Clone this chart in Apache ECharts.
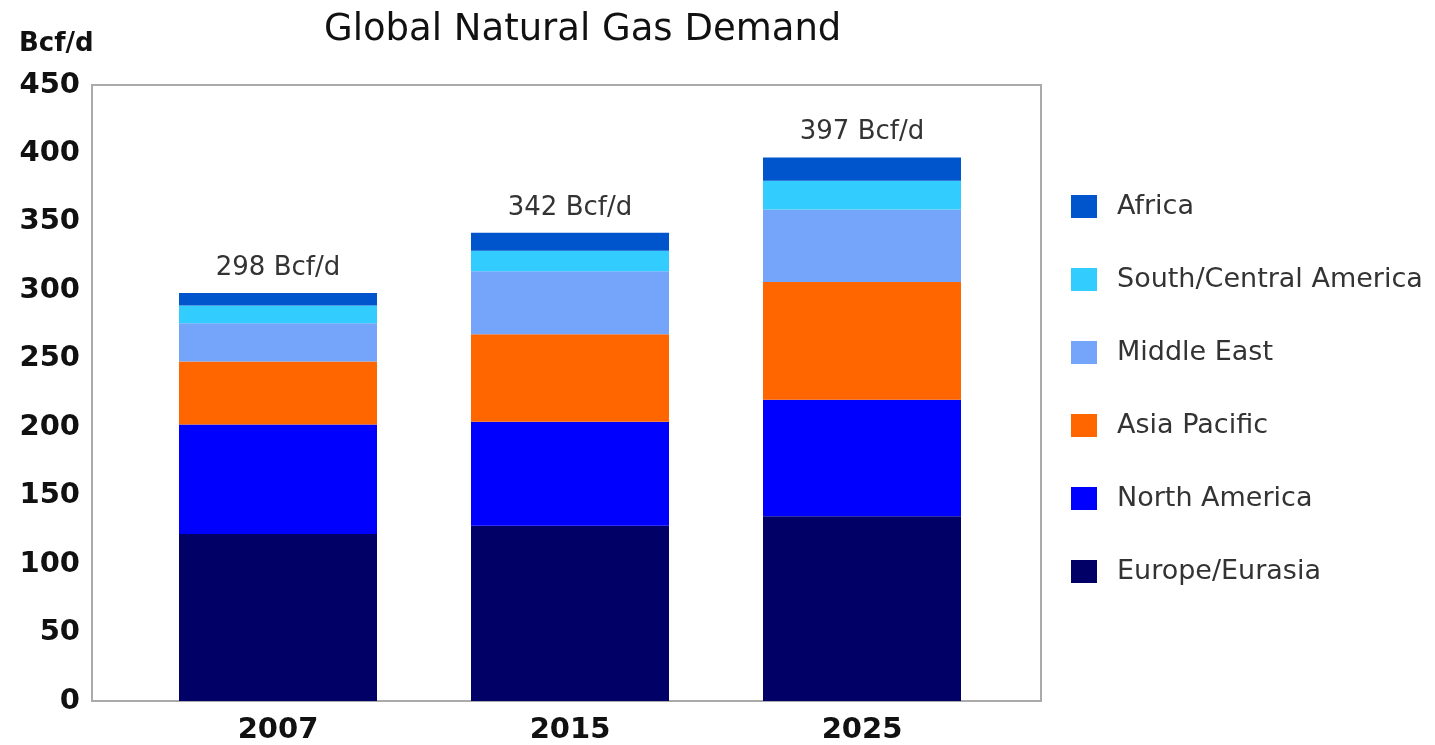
<!DOCTYPE html>
<html>
<head>
<meta charset="utf-8">
<script src="https://cdn.jsdelivr.net/npm/echarts@6/dist/echarts.min.js"></script>
<style>html,body{margin:0;padding:0;background:#fff;}#c{width:1435px;height:745px;}</style>
</head>
<body>
<div id="c"></div>
<script>
const years = ['2007', '2015', '2025'];
const europe = [122, 128, 135];
const northAmerica = [80, 76, 85];
const asiaPacific = [46, 64, 86];
const middleEast = [28, 46, 53];
const southCentral = [13, 15, 21];
const africa = [9, 13, 17];
const totals = [298, 342, 397];
const yTicks = { min: 0, max: 450, interval: 50 };

const FONT = 'DejaVu Sans';
const chart = echarts.init(document.getElementById('c'));

function bar(name, data, color, extra) {
  return Object.assign({
    name: name, type: 'bar', stack: 'total', data: data,
    xAxisIndex: 1, yAxisIndex: 1, barWidth: 198,
    itemStyle: { color: color }, emphasis: { disabled: true }
  }, extra || {});
}

chart.setOption({
  animation: false,
  title: [
    { text: 'Global Natural Gas Demand', left: 319, top: 7,
      textStyle: { fontFamily: FONT, fontSize: 37, fontWeight: 'normal', color: '#111' } },
    { text: 'Bcf/d', left: 14, top: 26,
      textStyle: { fontFamily: FONT, fontSize: 26, fontWeight: 'bold', color: '#111' } }
  ],
  grid: [
    { left: 92, right: 394, top: 85, bottom: 44, show: true, borderColor: '#aaaaaa', borderWidth: 2, backgroundColor: 'transparent' },
    { left: 132, right: 427, top: 85, bottom: 44 }
  ],
  xAxis: [
    { gridIndex: 0, type: 'category', data: years, show: false },
    { gridIndex: 1, type: 'category', data: years,
      axisLine: { show: false }, axisTick: { show: false },
      axisLabel: { fontFamily: FONT, fontSize: 29, fontWeight: 'bold', color: '#111', margin: 15 } }
  ],
  yAxis: [
    { gridIndex: 0, type: 'value', show: false, min: yTicks.min, max: yTicks.max },
    { gridIndex: 1, type: 'value', min: yTicks.min, max: yTicks.max, interval: yTicks.interval, offset: 40,
      axisLine: { show: false }, axisTick: { show: false }, splitLine: { show: false },
      axisLabel: { fontFamily: FONT, fontSize: 29, fontWeight: 'bold', color: '#111', margin: 12, padding: [4, 0, 0, 0] } }
  ],
  legend: {
    orient: 'vertical', left: 1071, top: 193, padding: 0,
    itemWidth: 26, itemHeight: 23, itemGap: 46, icon: 'rect',
    data: ['Africa', 'South/Central America', 'Middle East', 'Asia Pacific', 'North America', 'Europe/Eurasia'],
    textStyle: { fontFamily: FONT, fontSize: 27, color: '#333', padding: [0, 0, 0, 15] },
    selectedMode: false
  },
  series: [
    bar('Europe/Eurasia', europe, '#000066'),
    bar('North America', northAmerica, '#0000ff'),
    bar('Asia Pacific', asiaPacific, '#ff6600'),
    bar('Middle East', middleEast, '#75a5fb'),
    bar('South/Central America', southCentral, '#33ccff'),
    bar('Africa', africa, '#0055cc', {
      label: { show: true, position: 'top', distance: 12,
        fontFamily: FONT, fontSize: 26, color: '#333',
        formatter: p => totals[p.dataIndex] + ' Bcf/d' }
    })
  ]
});
</script>
</body>
</html>
